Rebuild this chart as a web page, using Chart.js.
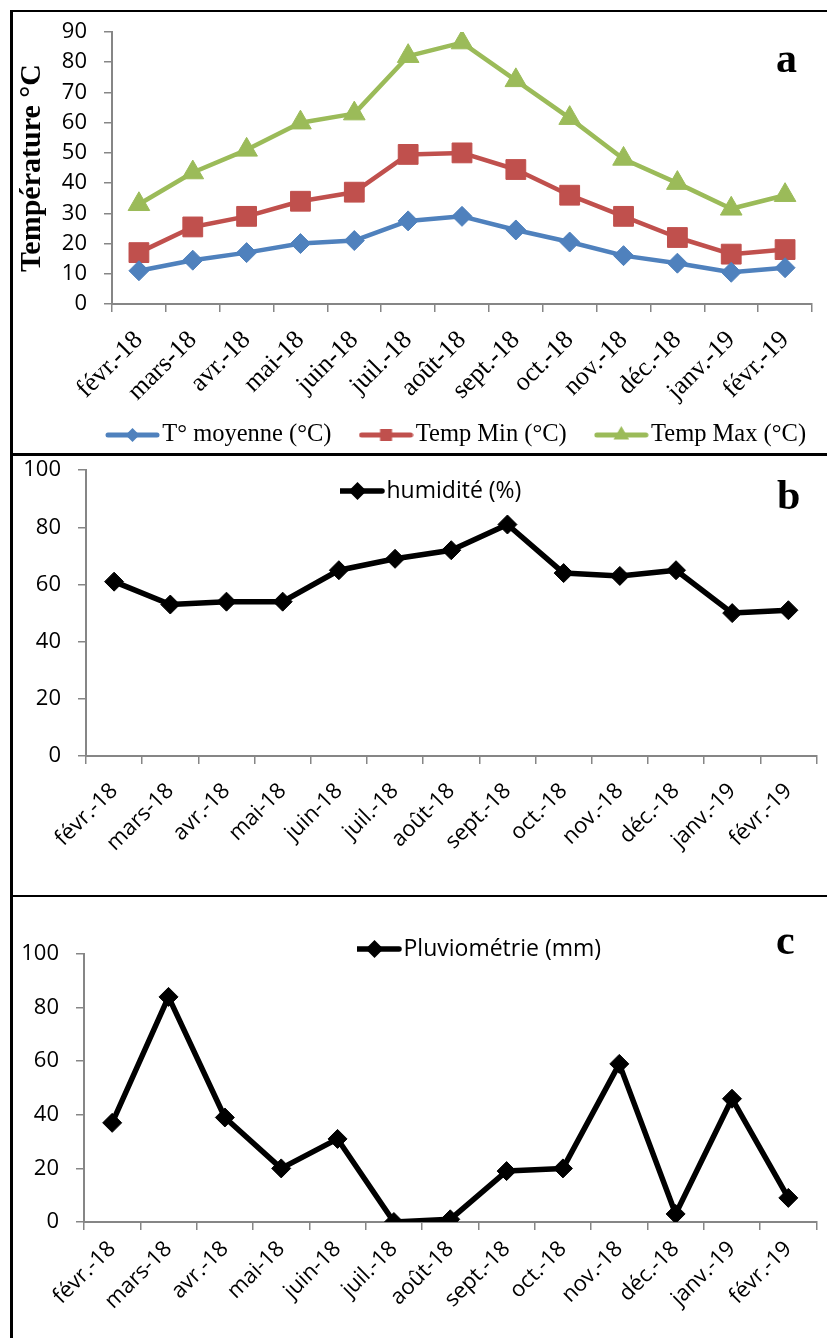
<!DOCTYPE html>
<html lang="fr">
<head>
<meta charset="utf-8">
<title>Température, humidité, pluviométrie</title>
<script src="https://cdn.jsdelivr.net/npm/chart.js@4.4.0/dist/chart.umd.min.js"></script>
<style>
  html,body{margin:0;padding:0;background:#fff}
  body{position:relative;width:827px;height:1338px;overflow:hidden}
  canvas{position:absolute;left:0}
  .ln{position:absolute;background:#000;z-index:2}
  .tag{position:absolute;font:bold 42px/42px "Liberation Serif",serif;color:#000;z-index:3}
</style>
</head>
<body>
<canvas id="ca" width="827" height="520" style="top:0"></canvas>
<canvas id="cb" width="827" height="456" style="top:440px"></canvas>
<canvas id="cc" width="827" height="442" style="top:896px"></canvas>

<div class="ln" style="left:10px;top:10px;width:817px;height:2px"></div>
<div class="ln" style="left:10px;top:10px;width:3px;height:1328px"></div>
<div class="ln" style="left:10px;top:453px;width:817px;height:3px"></div>
<div class="ln" style="left:10px;top:895px;width:817px;height:2px"></div>

<div class="tag" style="left:776px;top:37px">a</div>
<div class="tag" style="left:777px;top:474px">b</div>
<div class="tag" style="left:776px;top:919px">c</div>

<script>
// ---- données ----
const months=['févr.-18','mars-18','avr.-18','mai-18','juin-18','juil.-18','août-18',
              'sept.-18','oct.-18','nov.-18','déc.-18','janv.-19','févr.-19'];
const tMoy=[11,14.5,17,20,21,27.5,29,24.5,20.5,16,13.5,10.5,12];
const tMin=[17,25.5,29,34,37,49.5,50,44.5,36,29,22,16.5,18];
const tMax=[33,43.5,51,60,63,82,86.5,74,61.5,48,40,31.5,36];
const humidite=[61,53,54,54,65,69,72,81,64,63,65,50,51];
const pluie=[37,84,39,20,31,0,1,19,20,59,3,46,9];

const BLUE='#4F81BD', RED='#C0504D', GREEN='#9BBB59', BLACK='#000', GREY='#868686';
const SERIF='"Liberation Serif", "Times New Roman", serif';
const SANS='"Open Sans", sans-serif';

Chart.defaults.animation=false;
Chart.defaults.color='#000';

// petit symbole de légende : trait + marqueur (comme dans Excel)
function legendSym(color,shape,r,lw){
  const c=document.createElement('canvas'); c.width=55; c.height=26;
  const g=c.getContext('2d'), cx=27.5, cy=13;
  g.strokeStyle=color; g.fillStyle=color; g.lineWidth=lw; g.lineCap='round';
  g.beginPath(); g.moveTo(3,cy); g.lineTo(52,cy); g.stroke();
  g.beginPath();
  if(shape==='diamond'){ g.moveTo(cx,cy-r); g.lineTo(cx+r,cy); g.lineTo(cx,cy+r); g.lineTo(cx-r,cy); }
  else if(shape==='square'){ g.rect(cx-r,cy-r,2*r,2*r); }
  else { g.moveTo(cx,cy-r); g.lineTo(cx+r*0.866,cy+r/2); g.lineTo(cx-r*0.866,cy+r/2); }
  g.closePath(); g.fill();
  return c;
}

// place la légende à une position fixe du canevas
const legendAt={
  id:'legendAt',
  afterLayout(chart,args,opts){
    const lg=chart.legend; if(!lg||opts.x==null) return;
    const pad=lg.options.labels.padding, w=lg.width, h=lg.height;
    lg.left=opts.x-pad; lg.right=lg.left+w;
    lg.top=opts.y-pad; lg.bottom=lg.top+h;
  }
};

function xAxis(font,h,pad){
  return {type:'category',offset:true,
    grid:{offset:true,drawOnChartArea:false,drawTicks:true,tickLength:8,color:GREY,lineWidth:1.5},
    border:{color:GREY,width:2},
    ticks:{color:'#000',font,minRotation:45,maxRotation:45,autoSkip:false,padding:pad},
    afterFit:s=>{s.height=h;}};
}
function yAxis(min,max,step,w,title){
  const ax={min,max,
    grid:{drawOnChartArea:false,drawTicks:true,tickLength:8,color:GREY,lineWidth:1.5},
    border:{color:GREY,width:2},
    ticks:{stepSize:step,color:'#000',font:{family:SANS,size:22},padding:17},
    afterFit:s=>{s.width=w;}};
  if(title) ax.title=title;
  return ax;
}
function legendOpts(pos,font,syms,pad){
  return {position:pos,align:'start',
    labels:{usePointStyle:true,pointStyleWidth:35,padding:pad,color:'#000',font,
      generateLabels:ch=>Chart.defaults.plugins.legend.labels.generateLabels(ch)
        .map((it,i)=>Object.assign(it,{pointStyle:syms[i]}))}};
}
function line(label,data,color,style,r,lw){
  return {label,data,borderColor:color,backgroundColor:color,borderWidth:lw,
    borderCapStyle:'round',borderJoinStyle:'round',tension:0,
    pointStyle:style,pointRadius:r,pointHoverRadius:r,
    pointBackgroundColor:color,pointBorderColor:color,pointBorderWidth:1};
}

// ---- a : températures ----
new Chart(document.getElementById('ca'),{
  type:'line',
  data:{labels:months,datasets:[
    line('T° moyenne (°C)',tMoy,BLUE,'rectRot',10,4.5),
    line('Temp Min (°C)',tMin,RED,'rect',14,4.5),
    line('Temp Max (°C)',tMax,GREEN,'triangle',12.5,4.5)
  ]},
  options:{responsive:false,
    layout:{padding:{top:32,right:4,left:0,bottom:0}},
    plugins:{tooltip:{enabled:false},
      legend:legendOpts('bottom',{family:SERIF,size:24.5},
        [legendSym(BLUE,'diamond',7,5),legendSym(RED,'square',6,5),legendSym(GREEN,'triangle',9,5)],37),
      legendAt:{x:115,y:422.75}},
    scales:{
      x:xAxis({family:SERIF,size:26},144.5,13),
      y:yAxis(0,90,10,112,{display:true,text:'Température °C',color:'#000',
        font:{family:SERIF,size:30,weight:'bold'},padding:{top:14,bottom:0}})
    }},
  plugins:[legendAt]
});

// ---- b : humidité ----
new Chart(document.getElementById('cb'),{
  type:'line',
  data:{labels:months,datasets:[line('humidité (%)',humidite,BLACK,'rectRot',9.5,5.5)]},
  options:{responsive:false,
    layout:{padding:{top:30,right:0,left:0,bottom:0}},
    plugins:{tooltip:{enabled:false},
      legend:legendOpts('chartArea',{family:SANS,size:23},[legendSym(BLACK,'diamond',9,5.5)],0),
      legendAt:{x:340,y:39.5}},
    scales:{x:xAxis({family:SANS,size:22},140,14),y:yAxis(0,100,20,86)}},
  plugins:[legendAt]
});

// ---- c : pluviométrie ----
new Chart(document.getElementById('cc'),{
  type:'line',
  data:{labels:months,datasets:[line('Pluviométrie (mm)',pluie,BLACK,'rectRot',9.5,5.5)]},
  options:{responsive:false,
    layout:{padding:{top:58,right:0,left:0,bottom:0}},
    plugins:{tooltip:{enabled:false},
      legend:legendOpts('chartArea',{family:SANS,size:23},[legendSym(BLACK,'diamond',9,5.5)],0),
      legendAt:{x:357,y:41.5}},
    scales:{x:xAxis({family:SANS,size:22},116,6),y:yAxis(0,100,20,84)}},
  plugins:[legendAt]
});
</script>
</body>
</html>
